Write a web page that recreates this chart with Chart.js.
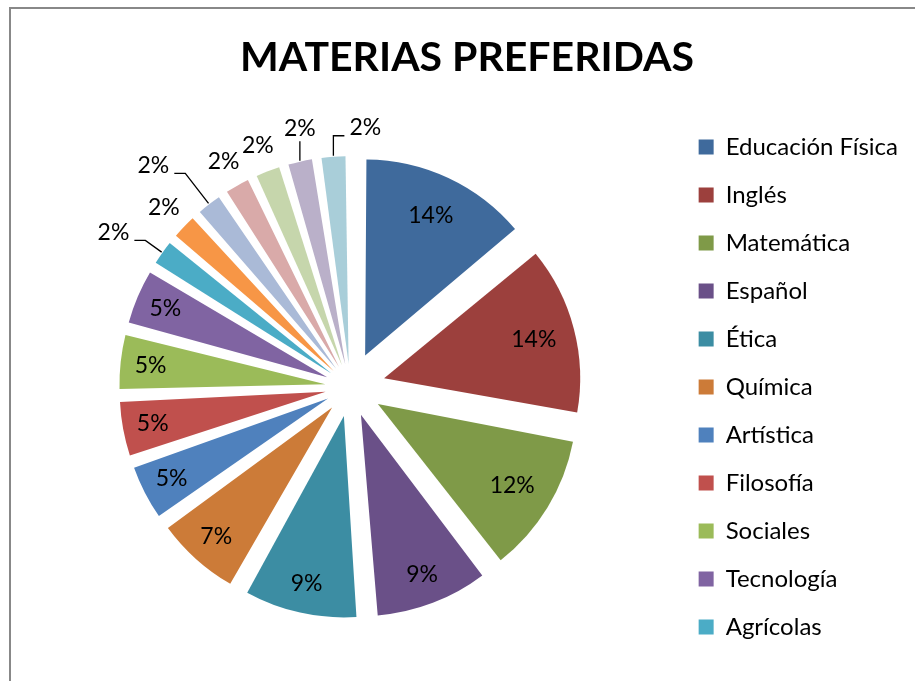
<!DOCTYPE html>
<html>
<head>
<meta charset="utf-8">
<script src="https://cdn.jsdelivr.net/npm/chart.js@4/dist/chart.umd.min.js"></script>
<style>
  html, body { margin: 0; padding: 0; background: #fff; }
  #grafico { display: block; }
</style>
</head>
<body>
<canvas id="grafico" width="915" height="681"></canvas>
<script>
// materias (solo las 11 primeras aparecen en la leyenda)
const materias = ["Educación Física", "Inglés", "Matemática", "Español", "Ética", "Química",
  "Artística", "Filosofía", "Sociales", "Tecnología", "Agrícolas",
  "Biología", "Física", "Informática", "Música", "Religión", "Contabilidad"];
const votos = [6, 6, 5, 4, 4, 3, 2, 2, 2, 2, 1, 1, 1, 1, 1, 1, 1];
const colores = ["#3F6A9C", "#9C403D", "#7F9A48", "#6A5088", "#3C8DA3", "#CC7B38",
  "#4F81BD", "#C0504D", "#9BBB59", "#8064A2", "#4BACC6",
  "#F79646", "#AABAD7", "#D9AAA9", "#C6D6AC", "#BAB0C9", "#A9CED9"];

const total = votos.reduce((a, b) => a + b, 0);
const RADIO = 188, SEPARACION = 43;

// chart.js mueve cada porcion offset/4*(1+fix); se corrige para que todas se separen igual
function offsetPorcion(c) {
  const ang = votos[c.dataIndex] / total * Math.PI * 2;
  const fix = 1 - Math.sin(Math.min(Math.PI, ang));
  return 4 * SEPARACION / (1 + fix);
}

const marco = {
  id: "marco",
  beforeDraw(chart) {
    const ctx = chart.ctx;
    ctx.save();
    ctx.fillStyle = "#fff";
    ctx.fillRect(0, 0, chart.width, chart.height);
    ctx.fillStyle = "#888";
    ctx.fillRect(9, 7, chart.width, 2);
    ctx.fillRect(9, 7, 2, chart.height);
    ctx.restore();
  }
};

// etiquetas de porcentaje, dentro o fuera con linea guia
const etiquetas = {
  id: "etiquetas",
  afterDatasetsDraw(chart, args, opts) {
    const ctx = chart.ctx;
    const arcs = chart.getDatasetMeta(0).data;
    ctx.save();
    ctx.font = "23px Lato";
    ctx.fillStyle = "#000";
    ctx.strokeStyle = "#000";
    ctx.lineWidth = 1.3;
    ctx.textBaseline = "middle";
    arcs.forEach((arc, i) => {
      const p = arc.getProps(["x", "y", "startAngle", "endAngle", "outerRadius"], true);
      const mid = (p.startAngle + p.endAngle) / 2;
      const dx = Math.cos(mid), dy = Math.sin(mid);
      const texto = Math.round(votos[i] / total * 100) + "%";
      const pct = votos[i] / total;
      if (pct >= 0.04) {
        const k = pct > 0.1 ? 0.78 : 0.84;
        const r = SEPARACION + k * p.outerRadius;
        ctx.textAlign = "center";
        ctx.fillText(texto, p.x + dx * r, p.y + dy * r);
        return;
      }
      const guia = opts.guias[i];
      const borde = SEPARACION + p.outerRadius;
      if (!guia) {
        const r = borde + 28;
        ctx.textAlign = "center";
        ctx.fillText(texto, p.x + dx * r, p.y + dy * r);
        return;
      }
      const x0 = p.x + dx * (borde + 1), y0 = p.y + dy * (borde + 1);
      const r1 = borde + 21 + (guia.extra || 0);
      const x1 = p.x + dx * r1, y1 = p.y + dy * r1;
      ctx.beginPath();
      ctx.moveTo(x0, y0);
      if (guia.lado === 0) {
        ctx.lineTo(x0, y1);
        ctx.stroke();
        ctx.textAlign = "center";
        ctx.fillText(texto, x0, y1 - 13);
      } else {
        const xv = guia.vertical ? x0 : x1;
        const x2 = xv + guia.lado * 11;
        ctx.lineTo(xv, y1);
        ctx.lineTo(x2, y1);
        ctx.stroke();
        ctx.textAlign = guia.lado < 0 ? "right" : "left";
        ctx.fillText(texto, x2 + guia.lado * 5, y1 - 8);
      }
    });
    ctx.restore();
  }
};

new Chart(document.getElementById("grafico"), {
  type: "pie",
  data: {
    labels: materias,
    datasets: [{
      data: votos,
      backgroundColor: colores,
      borderWidth: 0,
      offset: offsetPorcion,
      hoverOffset: 0
    }]
  },
  options: {
    responsive: false,
    animation: false,
    radius: RADIO,
    layout: { padding: { left: 26, right: 7, top: 0, bottom: 18 } },
    plugins: {
      title: {
        display: true,
        text: "MATERIAS PREFERIDAS",
        color: "#000",
        font: { family: "Lato", size: 41, weight: "bold" },
        padding: { top: 33, bottom: 29 }
      },
      legend: {
        position: "right",
        align: "end",
        labels: {
          color: "#000",
          font: { family: "Lato", size: 24 },
          boxWidth: 15,
          boxHeight: 15,
          padding: 24,
          filter: item => item.index < 11
        }
      },
      tooltip: { enabled: false },
      etiquetas: {
        guias: {
          10: { lado: -1 },
          12: { lado: -1, extra: 18 },
          15: { lado: 0 },
          16: { lado: 1, vertical: true }
        }
      }
    }
  },
  plugins: [marco, etiquetas]
});
</script>
</body>
</html>
